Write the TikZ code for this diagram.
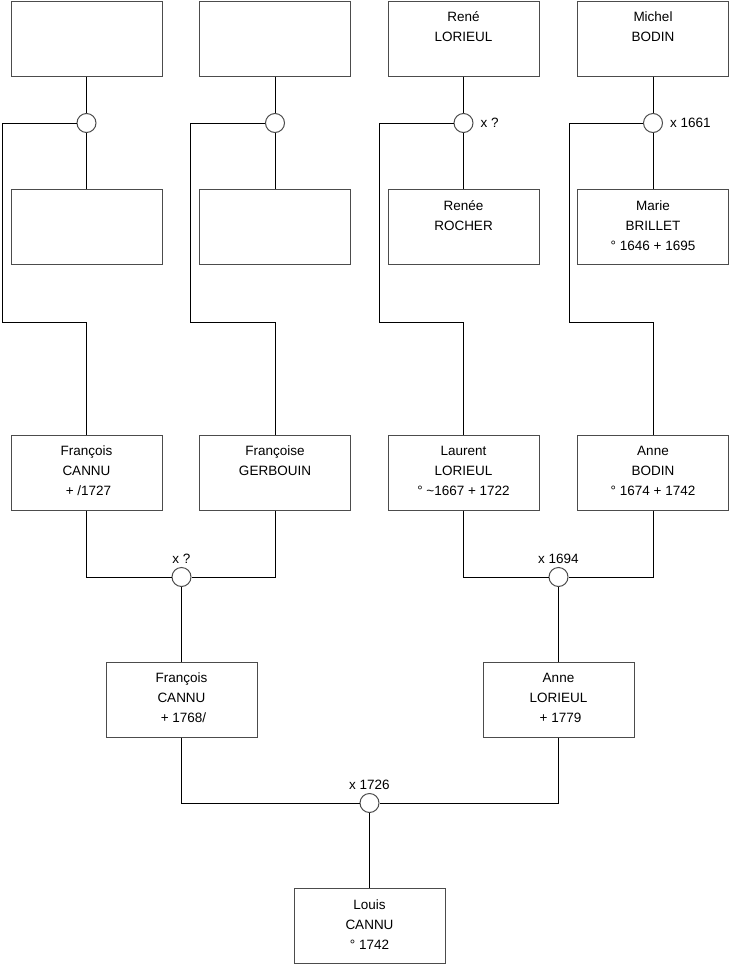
\documentclass[tikz,border=0pt]{standalone}
\usepackage{fontspec}
\setmainfont{Liberation Sans}
\newcommand\st{\rule[-7pt]{0pt}{20pt}}
\newcommand\three[3]{\st#1\\\st#2\\\st#3}
\begin{document}
\begin{tikzpicture}[x=1pt,y=-1pt,
  person/.style={draw=black!70, line width=1pt, minimum width=151pt, minimum height=75pt,
    align=center, inner sep=0pt, font=\fontsize{13.5}{20}\selectfont},
  union/.style={circle, draw=black!70, line width=1pt, minimum size=19pt, inner sep=0pt, fill=white},
  conn/.style={line width=1pt, black},
  lbl/.style={font=\fontsize{13.5}{16}\selectfont, inner sep=0pt}]
\useasboundingbox[fill=white] (0,0) rectangle (740,975);
% row 1
\node[person] (a1) at (86.5,38.5) {\three{}{}{}};
\node[person] (a2) at (275,38.5) {\three{}{}{}};
\node[person] (a3) at (463.5,38.5) {\three{René}{LORIEUL}{}};
\node[person] (a4) at (653,38.5) {\three{Michel}{BODIN}{}};
% row 2
\node[person] (b1) at (86.5,227) {\three{}{}{}};
\node[person] (b2) at (275,227) {\three{}{}{}};
\node[person] (b3) at (463.5,227) {\three{Renée}{ROCHER}{}};
\node[person] (b4) at (653,227) {\three{Marie}{BRILLET}{° 1646 + 1695}};
% row 3
\node[person] (c1) at (86.5,472.5) {\three{François}{CANNU}{\hspace*{4pt}+ /1727}};
\node[person] (c2) at (275,472.5) {\three{Françoise}{GERBOUIN}{}};
\node[person] (c3) at (463.5,472.5) {\three{Laurent}{LORIEUL}{° \textasciitilde1667 + 1722}};
\node[person] (c4) at (653,472.5) {\three{Anne}{BODIN}{° 1674 + 1742}};
% row 4
\node[person] (d1) at (181.5,699.5) {\three{François}{CANNU}{\hspace*{4pt}+ 1768/}};
\node[person] (d2) at (558.5,699.5) {\three{Anne}{LORIEUL}{\hspace*{4pt}+ 1779}};
% row 5
\node[person] (e1) at (369.5,926) {\three{Louis}{CANNU}{° 1742}};
% unions
\node[union] (u1) at (86.5,123) {};
\node[union] (u2) at (275,123) {};
\node[union] (u3) at (463.5,123) {};
\node[union] (u4) at (653,123) {};
\node[union] (u5) at (181.5,577) {};
\node[union] (u6) at (558.5,577) {};
\node[union] (u7) at (369.5,803) {};
% corner coordinates
\coordinate (k1) at (2,123);   \coordinate (m1) at (86.5,322);
\coordinate (k2) at (190,123); \coordinate (m2) at (275,322);
\coordinate (k3) at (379,123); \coordinate (m3) at (463.5,322);
\coordinate (k4) at (569,123); \coordinate (m4) at (653,322);
% connectors
\foreach \i in {1,2,3,4}{
  \draw[conn] (a\i.south) -- (u\i.north);
  \draw[conn] (u\i.south) -- (b\i.north);
  \draw[conn] (u\i.west) -- (k\i) |- (m\i) -- (c\i.north);
}
\draw[conn] (c1.south) |- (u5.west);
\draw[conn] (c2.south) |- (u5.east);
\draw[conn] (c3.south) |- (u6.west);
\draw[conn] (c4.south) |- (u6.east);
\draw[conn] (u5.south) -- (d1.north);
\draw[conn] (u6.south) -- (d2.north);
\draw[conn] (d1.south) |- (u7.west);
\draw[conn] (d2.south) |- (u7.east);
\draw[conn] (u7.south) -- (e1.north);
% labels
\node[lbl, anchor=west] (l3) at ([xshift=7pt]u3.east) {x ?};
\node[lbl, anchor=west] (l4) at ([xshift=7pt]u4.east) {x 1661};
\node[lbl, anchor=base] (l5) at ([yshift=4pt]u5.north) {x ?};
\node[lbl, anchor=base] (l6) at ([yshift=4pt]u6.north) {x 1694};
\node[lbl, anchor=base] (l7) at ([yshift=4pt]u7.north) {x 1726};
\end{tikzpicture}
\end{document}
